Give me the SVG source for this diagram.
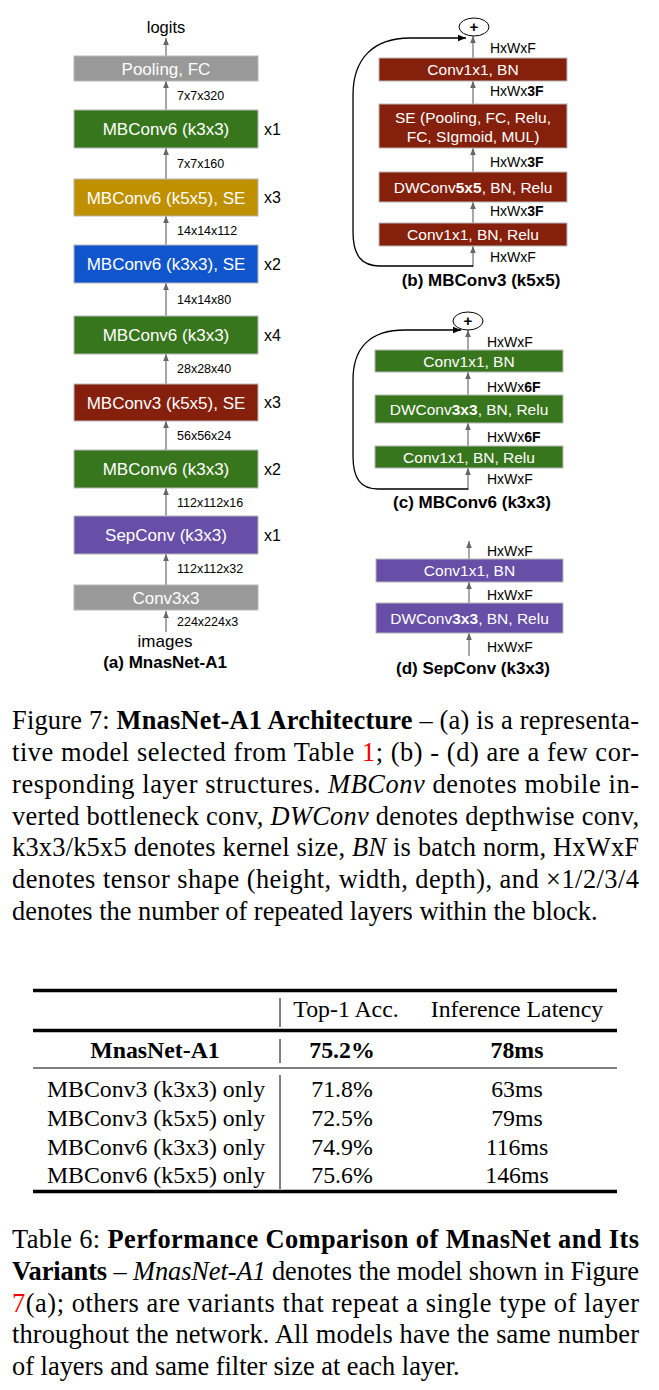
<svg xmlns="http://www.w3.org/2000/svg" width="659" height="1390" viewBox="0 0 659 1390">
<defs>
<marker id="ag" viewBox="0 0 10 10" refX="10" refY="5" markerWidth="7" markerHeight="7" orient="auto" markerUnits="userSpaceOnUse"><path d="M0,1 L10,5 L0,9 z" fill="#666"/></marker>
<marker id="ak" viewBox="0 0 10 10" refX="10" refY="5" markerWidth="8" markerHeight="8" orient="auto" markerUnits="userSpaceOnUse"><path d="M0,1 L10,5 L0,9 z" fill="#000"/></marker>
</defs>
<style>
.sa{font-family:"Liberation Sans",Arial,sans-serif}
.bt{font-family:"Liberation Sans",Arial,sans-serif;font-size:17px;fill:#fff;text-anchor:middle}
.rt{font-family:"Liberation Sans",Arial,sans-serif;font-size:15.5px;fill:#fff;text-anchor:middle}
.dl{font-family:"Liberation Sans",Arial,sans-serif;font-size:12.5px;fill:#000}
.rl{font-family:"Liberation Sans",Arial,sans-serif;font-size:14px;fill:#000}
.rep{font-family:"Liberation Sans",Arial,sans-serif;font-size:16px;fill:#000}
.cap{font-family:"Liberation Sans",Arial,sans-serif;font-size:17px;font-weight:bold;fill:#000;text-anchor:middle}
.gray{fill:#999999}
.green{fill:#38761d}
.gold{fill:#bf9000}
.blue{fill:#1155cc}
.red{fill:#85200c}
.purple{fill:#674ea7}
.box{stroke:#b7b7b7;stroke-width:1}
.arr{stroke:#777;stroke-width:1.3;fill:none;marker-end:url(#ag)}
.skip{stroke:#000;stroke-width:1.3;fill:none;marker-end:url(#ak)}
.tx{font-family:"Liberation Serif","Times New Roman",serif;font-size:26.4px;fill:#000}
.tb{font-family:"Liberation Serif","Times New Roman",serif;font-size:23.8px;fill:#000}
.b{font-weight:bold}
.i{font-style:italic}
.lnk{fill:#ff0000}
</style>
<rect width="659" height="1390" fill="#fff"/>

<!-- connectors -->
<g id="connectors">
<line class="arr" x1="166" y1="56" x2="166" y2="38"/>
<line class="arr" x1="166" y1="110" x2="166" y2="81"/>
<line class="arr" x1="166" y1="179" x2="166" y2="148"/>
<line class="arr" x1="166" y1="245" x2="166" y2="216"/>
<line class="arr" x1="166" y1="316" x2="166" y2="283"/>
<line class="arr" x1="166" y1="384" x2="166" y2="354"/>
<line class="arr" x1="166" y1="450" x2="166" y2="421"/>
<line class="arr" x1="166" y1="516" x2="166" y2="488"/>
<line class="arr" x1="166" y1="585" x2="166" y2="554"/>
<line class="arr" x1="166" y1="632" x2="166" y2="611"/>
<!-- (b) -->
<line class="arr" x1="473" y1="58" x2="473" y2="36"/>
<line class="arr" x1="473" y1="104" x2="473" y2="81"/>
<line class="arr" x1="473" y1="172" x2="473" y2="148"/>
<line class="arr" x1="473" y1="223" x2="473" y2="202"/>
<line class="arr" x1="473" y1="267" x2="473" y2="246"/>
<path class="skip" d="M473,266 L380,266 C362,266 353,256 353,232 L353,95 C353,60 372,38 410,38 L466,38"/>
<!-- (c) -->
<line class="arr" x1="468" y1="350" x2="468" y2="330"/>
<line class="arr" x1="468" y1="395" x2="468" y2="372"/>
<line class="arr" x1="468" y1="446" x2="468" y2="423"/>
<line class="arr" x1="468" y1="490" x2="468" y2="468"/>
<path class="skip" d="M468,489 L378,489 C361,489 353,479 353,456 L353,380 C353,348 370,330 405,330 L461,330"/>
<!-- (d) -->
<line class="arr" x1="469" y1="559" x2="469" y2="541"/>
<line class="arr" x1="469" y1="603" x2="469" y2="582"/>
<line class="arr" x1="469" y1="656" x2="469" y2="633"/>
</g>

<!-- (a) MnasNet-A1 -->
<g id="a-logits"><text class="sa" x="166" y="33" font-size="16.5" text-anchor="middle">logits</text></g>
<g id="a-pool"><rect class="gray box" x="74" y="56" width="184" height="25"/><text class="bt" x="166" y="74.5" fill="#f3f3f3">Pooling, FC</text></g>
<g id="a-l1"><text class="dl" x="177" y="100">7x7x320</text></g>
<g id="a-b1"><rect class="green box" x="74" y="110" width="184" height="38"/><text class="bt" x="166" y="135">MBConv6 (k3x3)</text><text class="rep" x="264" y="135">x1</text></g>
<g id="a-l2"><text class="dl" x="177" y="168">7x7x160</text></g>
<g id="a-b2"><rect class="gold box" x="74" y="179" width="184" height="37"/><text class="bt" x="166" y="203.5">MBConv6 (k5x5), SE</text><text class="rep" x="264" y="203">x3</text></g>
<g id="a-l3"><text class="dl" x="177" y="235">14x14x112</text></g>
<g id="a-b3"><rect class="blue box" x="74" y="245" width="184" height="38"/><text class="bt" x="166" y="270">MBConv6 (k3x3), SE</text><text class="rep" x="264" y="270">x2</text></g>
<g id="a-l4"><text class="dl" x="177" y="304">14x14x80</text></g>
<g id="a-b4"><rect class="green box" x="74" y="316" width="184" height="38"/><text class="bt" x="166" y="341">MBConv6 (k3x3)</text><text class="rep" x="264" y="341">x4</text></g>
<g id="a-l5"><text class="dl" x="177" y="373">28x28x40</text></g>
<g id="a-b5"><rect class="red box" x="74" y="384" width="184" height="37"/><text class="bt" x="166" y="408.5">MBConv3 (k5x5), SE</text><text class="rep" x="264" y="408">x3</text></g>
<g id="a-l6"><text class="dl" x="177" y="440">56x56x24</text></g>
<g id="a-b6"><rect class="green box" x="74" y="450" width="184" height="38"/><text class="bt" x="166" y="475">MBConv6 (k3x3)</text><text class="rep" x="264" y="475">x2</text></g>
<g id="a-l7"><text class="dl" x="177" y="507">112x112x16</text></g>
<g id="a-b7"><rect class="purple box" x="74" y="516" width="184" height="38"/><text class="bt" x="166" y="541">SepConv (k3x3)</text><text class="rep" x="264" y="541">x1</text></g>
<g id="a-l8"><text class="dl" x="177" y="573">112x112x32</text></g>
<g id="a-conv"><rect class="gray box" x="74" y="585" width="184" height="25"/><text class="bt" x="166" y="603.5" fill="#f3f3f3">Conv3x3</text></g>
<g id="a-l9"><text class="dl" x="177" y="626">224x224x3</text></g>
<g id="a-images"><text class="sa" x="165" y="647" font-size="17" text-anchor="middle">images</text></g>
<g id="a-cap"><text class="cap" x="165" y="668">(a) MnasNet-A1</text></g>

<!-- (b) MBConv3 (k5x5) -->
<g id="b-plus"><ellipse cx="474" cy="27" rx="15" ry="9" fill="#fff" stroke="#000" stroke-width="1"/><text class="sa" x="474" y="32" font-size="15" font-weight="bold" text-anchor="middle">+</text></g>
<g id="b-l1"><text class="rl" x="490" y="53">HxWxF</text></g>
<g id="b-c1"><rect class="red box" x="379" y="58" width="188" height="23"/><text class="rt" x="473" y="75">Conv1x1, BN</text></g>
<g id="b-l2"><text class="rl" x="490" y="96">HxWx<tspan class="b">3F</tspan></text></g>
<g id="b-se"><rect class="red box" x="379" y="104" width="188" height="44"/><text class="rt" x="473" y="122.5">SE (Pooling, FC, Relu,</text><text class="rt" x="473" y="141.5">FC, SIgmoid, MUL)</text></g>
<g id="b-l3"><text class="rl" x="490" y="167">HxWx<tspan class="b">3F</tspan></text></g>
<g id="b-dw"><rect class="red box" x="379" y="172" width="188" height="30"/><text class="rt" x="473" y="192.5">DWConv<tspan class="b">5x5</tspan>, BN, Relu</text></g>
<g id="b-l4"><text class="rl" x="490" y="216">HxWx<tspan class="b">3F</tspan></text></g>
<g id="b-c2"><rect class="red box" x="379" y="223" width="188" height="23"/><text class="rt" x="473" y="240">Conv1x1, BN, Relu</text></g>
<g id="b-l5"><text class="rl" x="490" y="262">HxWxF</text></g>
<g id="b-cap"><text class="cap" x="481" y="286">(b) MBConv3 (k5x5)</text></g>

<!-- (c) MBConv6 (k3x3) -->
<g id="c-plus"><ellipse cx="468" cy="321" rx="15" ry="9" fill="#fff" stroke="#000" stroke-width="1"/><text class="sa" x="468" y="326" font-size="15" font-weight="bold" text-anchor="middle">+</text></g>
<g id="c-l1"><text class="rl" x="487" y="347">HxWxF</text></g>
<g id="c-c1"><rect class="green box" x="375" y="350" width="188" height="22"/><text class="rt" x="469" y="366.5">Conv1x1, BN</text></g>
<g id="c-l2"><text class="rl" x="487" y="392">HxWx<tspan class="b">6F</tspan></text></g>
<g id="c-dw"><rect class="green box" x="375" y="395" width="188" height="28"/><text class="rt" x="469" y="414.5">DWConv<tspan class="b">3x3</tspan>, BN, Relu</text></g>
<g id="c-l3"><text class="rl" x="487" y="442">HxWx<tspan class="b">6F</tspan></text></g>
<g id="c-c2"><rect class="green box" x="375" y="446" width="188" height="22"/><text class="rt" x="469" y="462.5">Conv1x1, BN, Relu</text></g>
<g id="c-l4"><text class="rl" x="487" y="484">HxWxF</text></g>
<g id="c-cap"><text class="cap" x="472" y="508">(c) MBConv6 (k3x3)</text></g>

<!-- (d) SepConv (k3x3) -->
<g id="d-l1"><text class="rl" x="487" y="556">HxWxF</text></g>
<g id="d-c1"><rect class="purple box" x="376" y="559" width="187" height="23"/><text class="rt" x="469.5" y="576">Conv1x1, BN</text></g>
<g id="d-l2"><text class="rl" x="487" y="600">HxWxF</text></g>
<g id="d-dw"><rect class="purple box" x="376" y="603" width="187" height="30"/><text class="rt" x="469.5" y="623.5">DWConv<tspan class="b">3x3</tspan>, BN, Relu</text></g>
<g id="d-l3"><text class="rl" x="487" y="652">HxWxF</text></g>
<g id="d-cap"><text class="cap" x="473" y="674">(d) SepConv (k3x3)</text></g>

<!-- Figure caption -->
<g id="fig-caption">
<text class="tx" x="12" y="729" textLength="627" lengthAdjust="spacing">Figure 7: <tspan class="b">MnasNet-A1 Architecture</tspan> – (a) is a representa-</text>
<text class="tx" x="12" y="761" textLength="627" lengthAdjust="spacing">tive model selected from Table <tspan class="lnk">1</tspan>; (b) - (d) are a few cor-</text>
<text class="tx" x="12" y="793" textLength="627" lengthAdjust="spacing">responding layer structures. <tspan class="i">MBConv</tspan> denotes mobile in-</text>
<text class="tx" x="12" y="825" textLength="627" lengthAdjust="spacing">verted bottleneck conv, <tspan class="i">DWConv</tspan> denotes depthwise conv,</text>
<text class="tx" x="12" y="856" textLength="627" lengthAdjust="spacing">k3x3/k5x5 denotes kernel size, <tspan class="i">BN</tspan> is batch norm, HxWxF</text>
<text class="tx" x="12" y="888" textLength="627" lengthAdjust="spacing">denotes tensor shape (height, width, depth), and ×1/2/3/4</text>
<text class="tx" x="12" y="920">denotes the number of repeated layers within the block.</text>
</g>

<!-- Table -->
<g id="table">
<line x1="33" y1="990.5" x2="617" y2="990.5" stroke="#000" stroke-width="3.5"/>
<line x1="33" y1="1030.5" x2="617" y2="1030.5" stroke="#000" stroke-width="3.5"/>
<line x1="33" y1="1068" x2="617" y2="1068" stroke="#000" stroke-width="1"/>
<line x1="33" y1="1191.5" x2="617" y2="1191.5" stroke="#000" stroke-width="3.5"/>
<line x1="280" y1="998" x2="280" y2="1027" stroke="#000" stroke-width="1"/>
<line x1="280" y1="1039" x2="280" y2="1063" stroke="#000" stroke-width="1"/>
<line x1="280" y1="1075" x2="280" y2="1189" stroke="#000" stroke-width="1"/>
<text class="tb" x="346" y="1017" text-anchor="middle">Top-1 Acc.</text>
<text class="tb" x="517" y="1017" text-anchor="middle">Inference Latency</text>
<text class="tb b" x="155" y="1058" text-anchor="middle">MnasNet-A1</text>
<text class="tb b" x="342" y="1058" text-anchor="middle">75.2%</text>
<text class="tb b" x="517" y="1058" text-anchor="middle">78ms</text>
<text class="tb" x="156" y="1097" text-anchor="middle">MBConv3 (k3x3) only</text>
<text class="tb" x="342" y="1097" text-anchor="middle">71.8%</text>
<text class="tb" x="517" y="1097" text-anchor="middle">63ms</text>
<text class="tb" x="156" y="1126" text-anchor="middle">MBConv3 (k5x5) only</text>
<text class="tb" x="342" y="1126" text-anchor="middle">72.5%</text>
<text class="tb" x="517" y="1126" text-anchor="middle">79ms</text>
<text class="tb" x="156" y="1155" text-anchor="middle">MBConv6 (k3x3) only</text>
<text class="tb" x="342" y="1155" text-anchor="middle">74.9%</text>
<text class="tb" x="517" y="1155" text-anchor="middle">116ms</text>
<text class="tb" x="156" y="1183" text-anchor="middle">MBConv6 (k5x5) only</text>
<text class="tb" x="342" y="1183" text-anchor="middle">75.6%</text>
<text class="tb" x="517" y="1183" text-anchor="middle">146ms</text>
</g>

<!-- Table caption -->
<g id="table-caption">
<text class="tx" x="12" y="1248" textLength="627" lengthAdjust="spacing">Table 6: <tspan class="b">Performance Comparison of MnasNet and Its</tspan></text>
<text class="tx" x="12" y="1280" textLength="627" lengthAdjust="spacing"><tspan class="b">Variants</tspan> – <tspan class="i">MnasNet-A1</tspan> denotes the model shown in Figure</text>
<text class="tx" x="12" y="1312" textLength="627" lengthAdjust="spacing"><tspan class="lnk">7</tspan>(a); others are variants that repeat a single type of layer</text>
<text class="tx" x="12" y="1343" textLength="627" lengthAdjust="spacing">throughout the network. All models have the same number</text>
<text class="tx" x="12" y="1375">of layers and same filter size at each layer.</text>
</g>
</svg>
